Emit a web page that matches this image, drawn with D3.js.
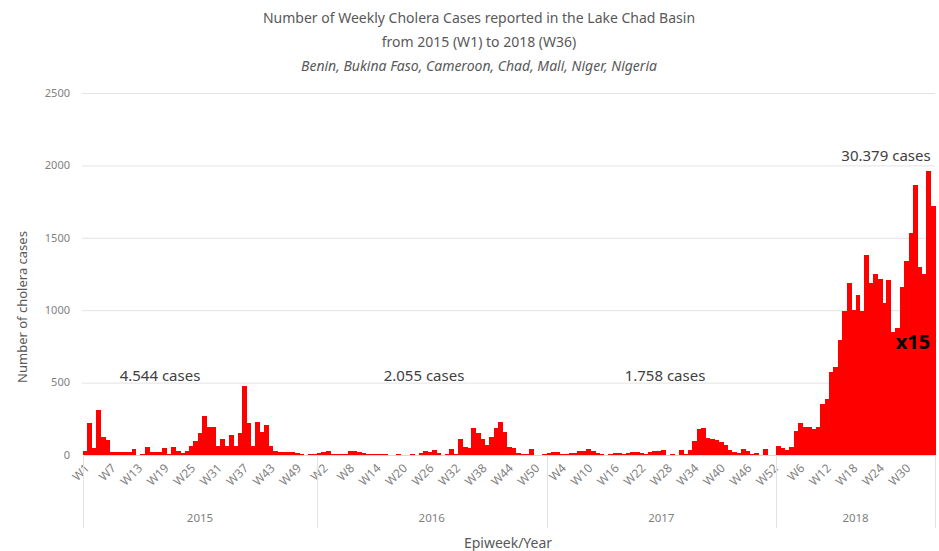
<!DOCTYPE html>
<html>
<head>
<meta charset="utf-8">
<script src="https://cdn.jsdelivr.net/npm/d3@7"></script>
<style>
  body { margin: 0; background: #fff; }
  svg text { font-family: "Noto Sans", "Open Sans", sans-serif; }
</style>
</head>
<body>
<div id="chart"></div>
<script>
// weekly cases
let years = ["2015", "2016", "2017", "2018"];
let cases_2015 = [30, 220, 50, 310, 125, 105, 20, 20, 20, 20, 20, 40, 0, 5, 55, 18, 18, 20, 50, 10,
  55, 25, 15, 30, 60, 95, 150, 272, 190, 196, 62, 110, 62, 140, 62, 150, 475, 220, 62, 230,
  160, 205, 62, 25, 20, 20, 22, 18, 15, 10, 3, 5, 5];
let cases_2016 = [12, 23, 30, 7, 7, 10, 5, 30, 28, 20, 15, 10, 7, 7, 5, 5, 0, 0, 8, 0,
  3, 5, 0, 15, 30, 22, 33, 15, 0, 5, 40, 5, 108, 58, 45, 184, 150, 108, 70, 122,
  184, 230, 161, 53, 46, 15, 10, 5, 40, 0, 0, 5];
let cases_2017 = [12, 23, 23, 7, 7, 12, 12, 30, 30, 40, 25, 12, 5, 0, 5, 12, 12, 5, 12, 23,
  18, 12, 5, 23, 30, 28, 35, 0, 5, 0, 35, 5, 35, 99, 177, 184, 115, 108, 104, 92,
  69, 35, 23, 12, 40, 28, 5, 12, 0, 39, 0, 0];
let cases_2018 = [62, 48, 32, 53, 164, 223, 194, 194, 177, 194, 355, 385, 574, 608, 793, 993, 1191, 1000, 1104, 993,
  1380, 1191, 1253, 1214, 1053, 1212, 846, 878, 1161, 1339, 1530, 1864, 1300, 1253, 1961, 1721];
let yTicks = [0, 500, 1000, 1500, 2000, 2500];
let totals = ["4.544 cases", "2.055 cases", "1.758 cases", "30.379 cases"];
let titleLines = ["Number of Weekly Cholera Cases reported in the Lake Chad Basin",
  "from 2015 (W1) to 2018 (W36)"];
let subTitle = "Benin, Bukina Faso, Cameroon, Chad, Mali, Niger, Nigeria";

let width = 939, height = 551;
let margin = {left: 83, right: 4, top: 93, bottom: 96};

let all_years = [cases_2015, cases_2016, cases_2017, cases_2018];
let data = [];
all_years.forEach(function(arr, yi) {
  arr.forEach(function(v, wi) {
    data.push({year: years[yi], week: wi + 1, value: v, idx: data.length});
  });
});

let svg = d3.select("#chart").append("svg")
  .attr("width", width)
  .attr("height", height);

let x = d3.scaleBand()
  .domain(data.map(d => d.idx))
  .range([margin.left, width - margin.right])
  .padding(0);

let y = d3.scaleLinear()
  .domain([0, 2500])
  .range([height - margin.bottom, margin.top]);

// gridlines
svg.append("g").selectAll("line")
  .data(yTicks.slice(1)).enter().append("line")
  .attr("x1", margin.left - 1)
  .attr("x2", width - margin.right)
  .attr("y1", d => y(d) + 0.5)
  .attr("y2", d => y(d) + 0.5)
  .attr("stroke", "#e3e3e3");

// y tick labels
svg.append("g").selectAll("text")
  .data(yTicks).enter().append("text")
  .attr("x", 70)
  .attr("y", d => y(d))
  .attr("dy", "0.35em")
  .attr("text-anchor", "end")
  .attr("font-size", 11)
  .attr("fill", "#7f7f7f")
  .text(d => d);

// bars
svg.append("g")
  .attr("shape-rendering", "crispEdges")
  .selectAll("rect")
  .data(data).enter().append("rect")
  .attr("x", d => x(d.idx))
  .attr("width", x.bandwidth() + 0.5)
  .attr("y", d => y(d.value))
  .attr("height", d => y(0) - y(d.value))
  .attr("fill", "#ff0000");

// x axis baseline
svg.append("line")
  .attr("x1", margin.left)
  .attr("x2", width - margin.right)
  .attr("y1", y(0) + 0.5)
  .attr("y2", y(0) + 0.5)
  .attr("stroke", "#d9d9d9");

// week labels every 6 weeks (last week has no label)
svg.append("g").selectAll("text")
  .data(data.filter(d => d.idx % 6 == 0 && d.idx < data.length - 1)).enter().append("text")
  .attr("transform", d => "translate(" + (x(d.idx) + x.bandwidth() / 2 + 2) + "," + (y(0) + 11) + ") rotate(-45)")
  .attr("text-anchor", "end")
  .attr("dy", "0.35em")
  .attr("font-size", 12)
  .attr("fill", "#7f7f7f")
  .text(d => "W" + d.week);

// year groups
let groups = years.map(function(yr) {
  let rows = data.filter(d => d.year == yr);
  return {year: yr, x0: x(rows[0].idx), x1: x(rows[rows.length - 1].idx) + x.bandwidth()};
});
let seps = groups.map(g => g.x0).concat([groups[groups.length - 1].x1]);
svg.append("g").selectAll("line")
  .data(seps).enter().append("line")
  .attr("x1", d => Math.round(d) + 0.5)
  .attr("x2", d => Math.round(d) + 0.5)
  .attr("y1", y(0))
  .attr("y2", 528)
  .attr("stroke", "#e3e3e3");

svg.append("g").selectAll("text")
  .data(groups).enter().append("text")
  .attr("x", g => (g.x0 + g.x1) / 2)
  .attr("y", 522)
  .attr("text-anchor", "middle")
  .attr("font-size", 11.5)
  .attr("fill", "#7f7f7f")
  .text(g => g.year);

// axis titles
svg.append("text")
  .attr("x", 508)
  .attr("y", 548)
  .attr("text-anchor", "middle")
  .attr("font-size", 14)
  .attr("fill", "#595959")
  .text("Epiweek/Year");

svg.append("text")
  .attr("transform", "translate(27,307) rotate(-90)")
  .attr("text-anchor", "middle")
  .attr("font-size", 13)
  .attr("fill", "#595959")
  .text("Number of cholera cases");

// titles
svg.append("g").selectAll("text")
  .data(titleLines).enter().append("text")
  .attr("x", 479)
  .attr("y", (d, i) => 23 + i * 24)
  .attr("text-anchor", "middle")
  .attr("font-size", 14)
  .attr("fill", "#595959")
  .text(d => d);

svg.append("text")
  .attr("x", 479)
  .attr("y", 71)
  .attr("text-anchor", "middle")
  .attr("font-size", 14)
  .attr("font-style", "italic")
  .attr("fill", "#595959")
  .text(subTitle);

// total per year
let totalPos = [[160, 376], [424, 376], [665, 376], [886, 156]];
svg.append("g").selectAll("text")
  .data(totals).enter().append("text")
  .attr("x", (d, i) => totalPos[i][0])
  .attr("y", (d, i) => totalPos[i][1])
  .attr("dy", "0.35em")
  .attr("text-anchor", "middle")
  .attr("font-size", 15)
  .attr("fill", "#404040")
  .text(d => d);

svg.append("text")
  .attr("x", 913)
  .attr("y", 342)
  .attr("dy", "0.35em")
  .attr("text-anchor", "middle")
  .attr("font-size", 20)
  .attr("font-weight", "bold")
  .attr("fill", "#000")
  .text("x15");
</script>
</body>
</html>
